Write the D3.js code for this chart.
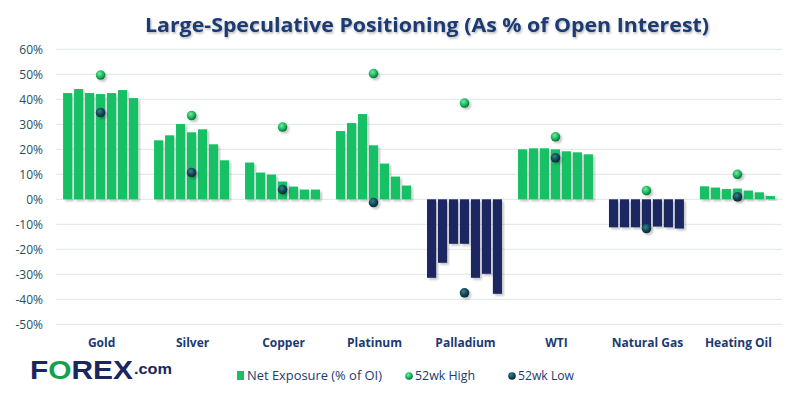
<!DOCTYPE html>
<html>
<head>
<meta charset="utf-8">
<script src="https://cdn.jsdelivr.net/npm/d3@7"></script>
<style>
  html, body { margin: 0; padding: 0; background: #fff; }
  svg { display: block; }
</style>
</head>
<body>
<svg id="chart" width="800" height="400"></svg>
<script>
// ---- Data ----
const categories = ["Gold", "Silver", "Copper", "Platinum", "Palladium", "WTI", "Natural Gas", "Heating Oil"];
const weeks = [1, 2, 3, 4, 5, 6, 7];
const netExposure = [
  [42.5, 44.1, 42.5, 42.1, 42.5, 43.7, 40.5],   // Gold
  [23.6, 25.6, 30.1, 26.8, 28.0, 22.0, 15.6],   // Silver
  [14.7, 10.7, 9.9, 7.1, 5.1, 3.9, 3.9],        // Copper
  [27.3, 30.5, 34.1, 21.6, 14.3, 9.1, 5.5],     // Platinum
  [-31.4, -25.4, -17.8, -17.8, -31.4, -29.8, -37.8], // Palladium
  [20.0, 20.4, 20.4, 20.0, 19.2, 18.8, 18.0],   // WTI
  [-11.2, -11.2, -11.2, -11.2, -10.9, -11.2, -11.7], // Natural Gas
  [5.2, 4.7, 4.1, 4.3, 3.5, 2.8, 1.3]           // Heating Oil
];
const high52 = [49.7, 33.5, 28.9, 50.3, 38.5, 25.0, 3.5, 10.0];
const low52 = [34.7, 10.7, 3.9, -1.3, -37.4, 16.6, -11.7, 1.0];
const yTicks = [60, 50, 40, 30, 20, 10, 0, -10, -20, -30, -40, -50];
const title = "Large-Speculative Positioning (As % of Open Interest)";
const legendLabels = ["Net Exposure (% of OI)", "52wk High", "52wk Low"];

// ---- Styles ----
const GREEN = "#13c166";
const NAVY = "#1a2660";
const TEXT_NAVY = "#1b3a72";

const svg = d3.select("#chart");
const defs = svg.append("defs");

const shadow = defs.append("filter").attr("id", "barShadow")
  .attr("x", "-20%").attr("y", "-20%").attr("width", "150%").attr("height", "150%");
shadow.append("feDropShadow").attr("dx", 2).attr("dy", 2).attr("stdDeviation", 1.2)
  .attr("flood-color", "#000").attr("flood-opacity", 0.22);

const titleShadow = defs.append("filter").attr("id", "titleShadow")
  .attr("x", "-5%").attr("y", "-30%").attr("width", "110%").attr("height", "160%");
titleShadow.append("feDropShadow").attr("dx", 1).attr("dy", 1.5).attr("stdDeviation", 1)
  .attr("flood-color", "#000").attr("flood-opacity", 0.3);

function radial(id, c0, c1, c2) {
  const g = defs.append("radialGradient").attr("id", id)
    .attr("cx", "40%").attr("cy", "35%").attr("r", "65%");
  g.append("stop").attr("offset", "0%").attr("stop-color", c0);
  g.append("stop").attr("offset", "60%").attr("stop-color", c1);
  g.append("stop").attr("offset", "100%").attr("stop-color", c2);
}
radial("gradHigh", "#7fe6a3", "#14b85e", "#0b6e36");
radial("gradLow", "#3f7f8c", "#0f4756", "#072831");

// ---- Scales ----
const y = d3.scaleLinear().domain([-50, 60]).range([324.3, 49.3]);
const x0 = d3.scaleBand().domain(categories).range([54, 784]).paddingInner(0.176).paddingOuter(0.1);
const x1 = d3.scaleBand().domain(weeks).range([0, x0.bandwidth()]).paddingInner(0.17);

// ---- Gridlines ----
svg.append("g").selectAll("line").data(yTicks).join("line")
  .attr("x1", 56).attr("x2", 782)
  .attr("y1", d => y(d)).attr("y2", d => y(d))
  .attr("stroke", "#dfe6e6").attr("stroke-width", 1);

// ---- Y axis ----
const yAxis = d3.axisLeft(y).tickValues(yTicks).tickFormat(d => d + "%").tickSize(0).tickPadding(0);
const yg = svg.append("g").attr("transform", "translate(43,0)").call(yAxis);
yg.select(".domain").remove();
yg.selectAll("text")
  .attr("fill", "#1f4f5c")
  .attr("font-family", "'Open Sans', sans-serif")
  .attr("font-size", 12);

// ---- Bars ----
const groups = svg.append("g").selectAll("g").data(categories).join("g")
  .attr("transform", d => `translate(${x0(d)},0)`);

groups.selectAll("rect")
  .data((c, i) => netExposure[i].map((v, j) => ({ v, w: weeks[j] })))
  .join("rect")
  .attr("x", d => x1(d.w))
  .attr("width", x1.bandwidth())
  .attr("y", d => y(Math.max(0, d.v)))
  .attr("height", d => Math.abs(y(d.v) - y(0)))
  .attr("fill", d => d.v >= 0 ? GREEN : NAVY)
  .attr("filter", "url(#barShadow)");

// ---- Dots ----
const midWeek = weeks[3];
const dotX = c => x0(c) + x1(midWeek) + x1.bandwidth() / 2;

svg.append("g").selectAll("circle").data(categories).join("circle")
  .attr("cx", c => dotX(c))
  .attr("cy", (c, i) => y(high52[i]))
  .attr("r", 4.8)
  .attr("fill", "url(#gradHigh)")
  .attr("filter", "url(#barShadow)");

svg.append("g").selectAll("circle").data(categories).join("circle")
  .attr("cx", c => dotX(c))
  .attr("cy", (c, i) => y(low52[i]))
  .attr("r", 4.8)
  .attr("fill", "url(#gradLow)")
  .attr("filter", "url(#barShadow)");

// ---- Category labels ----
svg.append("g").selectAll("text").data(categories).join("text")
  .attr("x", c => x0(c) + x0.bandwidth() / 2 + 1)
  .attr("y", 347)
  .attr("text-anchor", "middle")
  .attr("fill", TEXT_NAVY)
  .attr("font-family", "'Open Sans', sans-serif")
  .attr("font-weight", "bold")
  .attr("font-size", 12)
  .text(d => d);

// ---- Title ----
svg.append("text")
  .attr("x", 145).attr("y", 32)
  .attr("textLength", 564).attr("lengthAdjust", "spacingAndGlyphs")
  .attr("fill", TEXT_NAVY)
  .attr("font-family", "'Open Sans', sans-serif")
  .attr("font-weight", "bold")
  .attr("font-size", 20)
  .attr("filter", "url(#titleShadow)")
  .text(title);

// ---- Legend ----
const legend = svg.append("g").attr("font-family", "'Open Sans', sans-serif").attr("font-size", 12).attr("fill", TEXT_NAVY);
legend.append("rect").attr("x", 237).attr("y", 371).attr("width", 7).attr("height", 9).attr("fill", GREEN);
legend.append("text").attr("x", 247).attr("y", 380).attr("textLength", 135).attr("lengthAdjust", "spacingAndGlyphs").text(legendLabels[0]);
legend.append("circle").attr("cx", 409).attr("cy", 376).attr("r", 3.8).attr("fill", "url(#gradHigh)");
legend.append("text").attr("x", 415).attr("y", 380).attr("textLength", 60).attr("lengthAdjust", "spacingAndGlyphs").text(legendLabels[1]);
legend.append("circle").attr("cx", 512).attr("cy", 376).attr("r", 3.8).attr("fill", "url(#gradLow)");
legend.append("text").attr("x", 518).attr("y", 380).attr("textLength", 56).attr("lengthAdjust", "spacingAndGlyphs").text(legendLabels[2]);

// ---- Logo ----
const logo = svg.append("text").attr("x", 30).attr("y", 379)
  .attr("font-family", "'Liberation Sans', Arial, sans-serif")
  .attr("font-weight", "bold").attr("fill", NAVY)
  .attr("font-size", 26)
  .attr("textLength", 103).attr("lengthAdjust", "spacingAndGlyphs");
logo.append("tspan").text("F");
logo.append("tspan").attr("fill", "#12a14f").text("O");
logo.append("tspan").text("REX");
svg.append("text").attr("x", 134).attr("y", 374)
  .attr("font-family", "'Liberation Sans', Arial, sans-serif")
  .attr("font-weight", "bold").attr("fill", NAVY)
  .attr("font-size", 15)
  .attr("textLength", 38).attr("lengthAdjust", "spacingAndGlyphs")
  .text(".com");
</script>
</body>
</html>
